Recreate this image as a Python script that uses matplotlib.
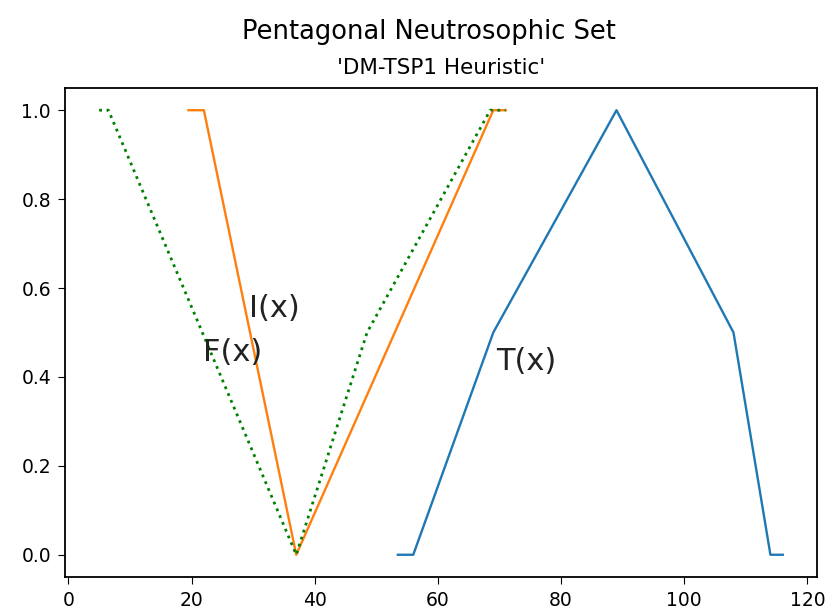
import numpy as np
import matplotlib
matplotlib.use("Agg")
import matplotlib.pyplot as plt

# pentagonal neutrosophic membership functions
t_x = [53.5, 56, 69, 89, 108, 114, 116]
t_y = [0, 0, 0.5, 1, 0.5, 0, 0]

i_x = [19.5, 22, 37, 69, 71]
i_y = [1, 1, 0, 1, 1]

f_x = [5, 6.5, 37, 48.5, 68.5, 71]
f_y = [1, 1, 0, 0.5, 1, 1]

labels = [("T(x)", 69.5, 0.415), ("I(x)", 29.4, 0.535), ("F(x)", 21.8, 0.435)]

plt.rcParams["xtick.major.size"] = 5
plt.rcParams["ytick.major.size"] = 5
plt.rcParams["xtick.major.pad"] = 5
plt.rcParams["ytick.major.pad"] = 5
plt.rcParams["axes.linewidth"] = 1.3

fig = plt.figure(figsize=(8.26, 6.14), dpi=100)
ax = fig.add_axes([0.0787, 0.0603, 0.9103, 0.7964])

ax.plot(t_x, t_y, linewidth=1.7)
ax.plot(i_x, i_y, linewidth=1.7)
ax.plot(f_x, f_y, color="green", linestyle=":", linewidth=2.0)

for txt, x, y in labels:
    ax.text(x, y, txt, fontsize=22, color="#222222")

ax.set_xticks(np.arange(0, 121, 20))
ax.set_yticks(np.arange(0, 1.01, 0.2))
ax.tick_params(labelsize=13.5)

fig.suptitle("Pentagonal Neutrosophic Set", fontsize=18.5, x=0.519, y=0.948, va="center")
ax.set_title("'DM-TSP1 Heuristic'", fontsize=15.5, pad=10)

fig.savefig("out.png", dpi=100)
